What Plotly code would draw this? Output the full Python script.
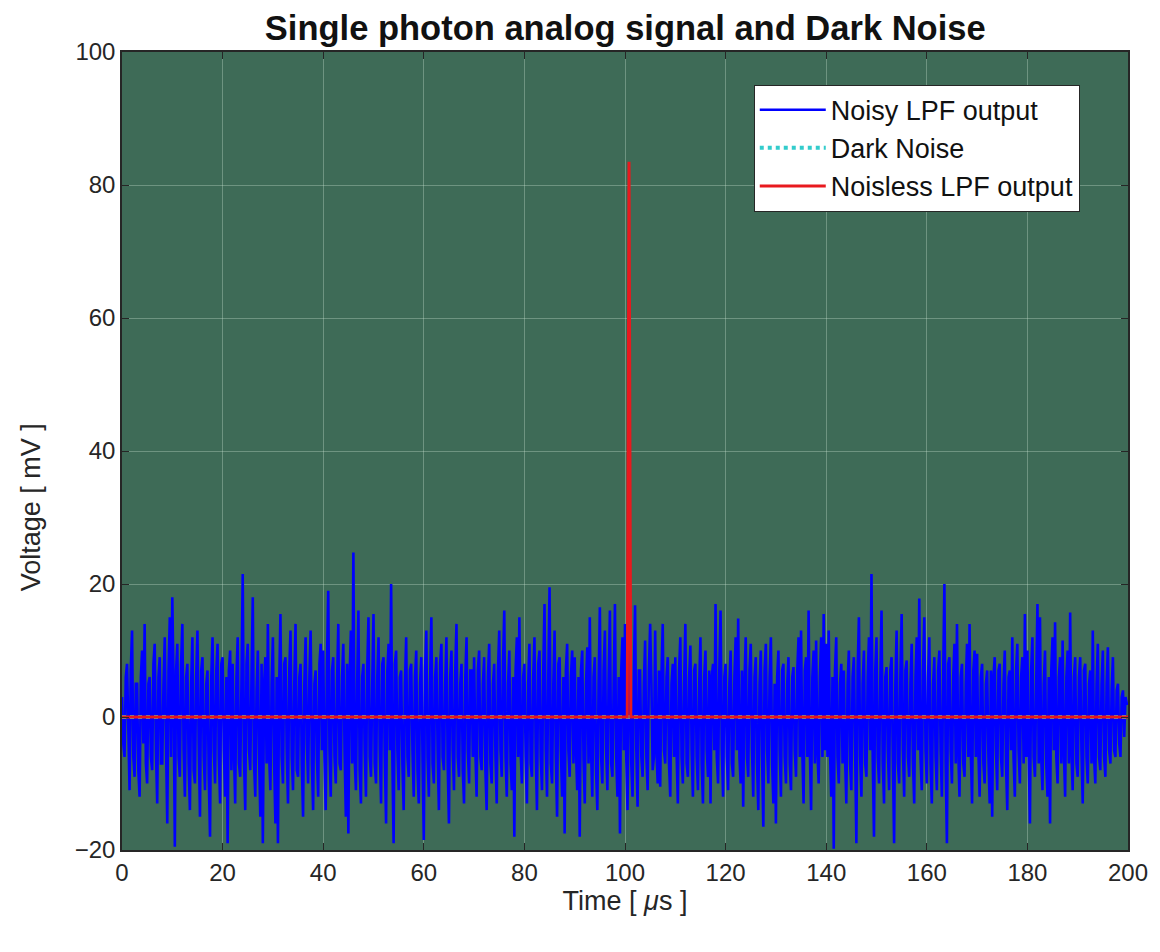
import plotly.graph_objects as go

# Noisy LPF output: main samples every 0.5 us (t = 0, 0.5, ... 200), hand-read estimates
noisy_rows = [
    [3, -6, 8, -11, 13, -9, 5, -12, 10, 14, -10, 6, -8, 11, -13, 9, -7, 12, -16, 15],
    [18, -19.5, 11, -9, 14, -12, 8, -14, 12, -10, 13, -15, 9, -11, 7, -18, 12, -10, 11, -13],
    [9, -12, -19, 10, 8, -13, 12, -9, 21.5, -14, 11, -8, 18, -12, 10, -15, -19, 9, 14, -11],
    [12, -16, -19, 15.5, -10, 9, -13, 13, -11, 14, -9, 8, -15, 12, -10, 13, -14, 7, -12, 11],
    [10, -14, 19, -12, 9, -10, 14, -8, 11, -15, -17.5, 13, 24.75, -11, 16, -13, 8, -12, 15, -9],
    [15.5, -10, 12, -13, 9, -16, 11, 20, -19, 10, -11, 7, -14, 12, -9, 8, -12, 10, -13, 9],
    [-18.5, 13, -12, 15, -10, 9, -14, 11, -8, 12, -16, 10, -11, 14, -9, 8, -13, 12, -10, 7],
    [9, -12, 10, -8, 9, -14, 11, -10, 8, -13, 13, -9, 16, -12, 10, -11, -18, 12, 15, -10],
    [8, -13, 11, -9, 12, -14, 10, -11, 17, -12, 19.5, -10, 13, -15, 9, -12, -17.5, 11, -9, 10],
    [9, -11, -18, 10, -13, 10.5, 15, -12, 9, -14, 16.5, -10, 13, -11, 16, -9, 17, -12, -17.5, 12],
    [14, -14, 10, -12, 16.8, -13.5, 7, -9, 11.5, -11, 14, -8, 13, -10, -10.5, 14, -7, 9, -12, 8],
    [9, -13, 12, -10, 14, -9, 10.75, -12, 8, -11, 12, -13, 10, -9, -13, 8, 17, -10, 16, -12],
    [8, -11, 10, -9, 12, 14.8, -10, -13.5, 12, -9, 11, -12, 9, -14, 10, -16.5, 11, -10, 12, -13],
    [-16, 10, -12, 8, -10, 9, -11, 7.5, -9, 12, 13, -13, 9, 16, -14, 10, 11.5, -10, 12, 15.5],
    [11, 13, -12, -19.8, 12, -10, 8, 7, -13, 10, -11, 9, -19, 15, -12, 10, -9, 12, 21.5, -18],
    [12, -10, 16, -13, 7.5, -11, 9, -19, 13, -10, 15.5, -12, 8.5, -9, 11, -13, 12, 17.8, -11, 15],
    [-10, 12, -13, 9, -11, 10, -12, 20, -19, 9, -10, 11, 14, -12, 8, -9, 11, 14, -13, 10],
    [9.5, -12, 8, -10, 7, -13, -15, 9, -11, 8, -9, 10, -14, 7, 12, -12, 11, -10, 9, 15.5],
    [10, -16, 12, -9, 17, 15, -11, 10, -12, -16, 12, 14.25, -10, 9, 11.5, -12, 10, 15.7, -11, 9],
    [-9, 9, -13, 8, -10, 7, 13, -10, 11, -8, 10, -9, 10.5, -7, 9, -6, 5, -6, 4, 3],
]
noisy_last = [2]

# Noisy LPF output: in-between samples (t = 0.25, 0.75, ... 199.75), hand-read estimates
between_rows = [
    [-4, 6, -5, 7, -6, 5, -8, 6, -4, -7, 5, -6, 8, -5, 6, -7, 5, -4, 7, -6],
    [5, 7, -6, 8, -5, 6, -7, 5, -8, 6, -4, 7, -6, 5, -9, 6, -5, 7, -6, 8],
    [-5, 6, 7, -8, -5, 6, -7, 5, -6, 8, -5, 6, -7, 4, -6, 8, 5, -7, -6, 5],
    [-7, 6, 5, -6, 8, -5, 7, -6, 5, -8, 6, -7, 5, -4, 6, -7, 5, -6, 8, -5],
    [-6, 8, -5, 7, -6, 5, -7, 6, -5, 8, 6, -7, -6, 5, -8, 6, -5, 7, -6, 5],
    [-7, 6, -5, 8, -6, 7, -5, -6, 8, -5, 6, -7, 5, -6, 7, -5, 6, -8, 5, -6],
    [7, -6, 5, -7, 6, -5, 8, -6, 5, -7, 6, -5, 7, -6, 5, -8, 6, -5, 7, -6],
    [-5, 7, -6, 5, -8, 6, -7, 5, -6, 7, -5, 8, -6, 5, -7, 6, 7, -6, -5, 6],
    [-6, 5, -7, 6, -5, 8, -6, 7, -5, 6, -7, 5, -6, 8, -5, 6, 7, -5, 6, -7],
    [-5, 6, 7, -6, 5, -7, -5, 6, -8, 5, -6, 7, -5, 6, -7, 5, -6, 6, 7, -5],
    [-6, 5, -7, 6, -5, 7, -6, 5, -6, 7, 5, -6, -5, 7, 6, -5, 6, -7, 5, -6],
    [-5, 7, -6, 5, -7, 6, -5, 7, -6, 5, -7, 6, -5, 7, 6, -5, -6, 7, -5, 6],
    [-6, 5, -7, 6, -5, -6, 7, 5, -6, 7, -5, 6, -7, 5, -6, 7, -5, 6, -7, 5],
    [6, -5, 7, -6, 5, -7, 6, -5, 7, -6, -5, 7, -6, -5, 6, -7, -5, 6, -6, -5],
    [-6, -5, 6, 7, -6, 5, -7, -6, 5, -7, 6, -5, 7, -6, 5, -7, 6, -5, -6, 7],
    [-6, 5, -7, 6, -5, 7, -6, 5, -7, 6, -5, 7, -6, 5, -7, 6, -5, -6, 7, -5],
    [6, -7, 5, -6, 7, -5, 6, -7, 8, -5, 6, -7, -5, 6, -7, 5, -6, -5, 7, -6],
    [-5, 6, -7, 5, -6, 7, 6, -5, 7, -6, 5, -7, 6, -5, -6, 7, -5, 6, -7, -6],
    [-5, 7, -6, 5, -7, -6, 5, -7, 6, 7, -5, -6, 6, -7, -5, 6, -7, -5, 6, -7],
    [6, -5, 7, -6, 5, -7, -6, 5, -6, 5, -6, 5, -5, 4, -5, 4, -4, 3, -3, 2],
]

main_values = [v for row in noisy_rows for v in row] + noisy_last
between_values = [v for row in between_rows for v in row]

noisy_time = []
noisy_values = []
for i, v in enumerate(main_values):
    noisy_time.append(i * 0.5)
    noisy_values.append(v)
    if i < len(between_values):
        noisy_time.append(i * 0.5 + 0.25)
        noisy_values.append(between_values[i])

# Dark noise (flat at zero)
dark_time = [0, 200]
dark_values = [0, 0]

# Noiseless LPF output: single photon pulse
clean_time = [0, 100.45, 100.8, 101.15, 200]
clean_values = [0, 0, 83.5, 0, 0]

x_ticks = [0, 20, 40, 60, 80, 100, 120, 140, 160, 180, 200]
y_ticks = [-20, 0, 20, 40, 60, 80, 100]

FONT = "Liberation Sans, Arial, sans-serif"

fig = go.Figure()
fig.add_trace(go.Scatter(x=noisy_time, y=noisy_values, mode="lines",
                         line=dict(color="#0000ff", width=2.6),
                         name="Noisy LPF output"))
fig.add_trace(go.Scatter(x=dark_time, y=dark_values, mode="lines",
                         line=dict(color="#33cccc", width=4, dash="dot"),
                         name="Dark Noise"))
fig.add_trace(go.Scatter(x=clean_time, y=clean_values, mode="lines",
                         line=dict(color="#e8191e", width=3),
                         name="Noisless LPF output"))

fig.update_layout(
    width=1160, height=952,
    margin=dict(l=122, r=30, t=52, b=102),
    paper_bgcolor="white",
    plot_bgcolor="#3e6b57",
    font=dict(family=FONT, size=24, color="#262626"),
    title=dict(text="<b>Single photon analog signal and Dark Noise</b>",
               x=0.539, xanchor="center", y=0.971, yanchor="middle",
               font=dict(family=FONT, size=34.5, color="#111111")),
    legend=dict(x=0.628, y=0.959, xanchor="left", yanchor="top",
                bgcolor="white", bordercolor="#262626", borderwidth=1,
                font=dict(family=FONT, size=27, color="#111111"),
                tracegroupgap=0, itemwidth=66),
    showlegend=True,
    annotations=[dict(text="Voltage [ mV ]", xref="paper", yref="paper",
                      x=-0.091, y=0.43, xanchor="center", yanchor="middle",
                      textangle=-90, showarrow=False,
                      font=dict(family=FONT, size=27, color="#262626"))],
)
fig.update_xaxes(range=[0, 200], tickvals=x_ticks, ticks="inside", ticklen=7,
                 tickcolor="#262626", showline=True, linecolor="#262626", linewidth=1.5,
                 mirror="ticks", showgrid=True, gridcolor="rgba(200,225,210,0.35)", gridwidth=1,
                 zeroline=False, tickfont=dict(family=FONT, size=24, color="#262626"),
                 title=dict(text="Time [ <i>μ</i>s ]", standoff=6,
                            font=dict(family=FONT, size=27, color="#262626")))
fig.update_yaxes(range=[-20, 100], tickvals=y_ticks, ticks="inside", ticklen=7,
                 tickcolor="#262626", showline=True, linecolor="#262626", linewidth=1.5,
                 mirror="ticks", showgrid=True, gridcolor="rgba(200,225,210,0.35)", gridwidth=1,
                 zeroline=False, tickfont=dict(family=FONT, size=24, color="#262626"))

fig.write_html("out.html")
